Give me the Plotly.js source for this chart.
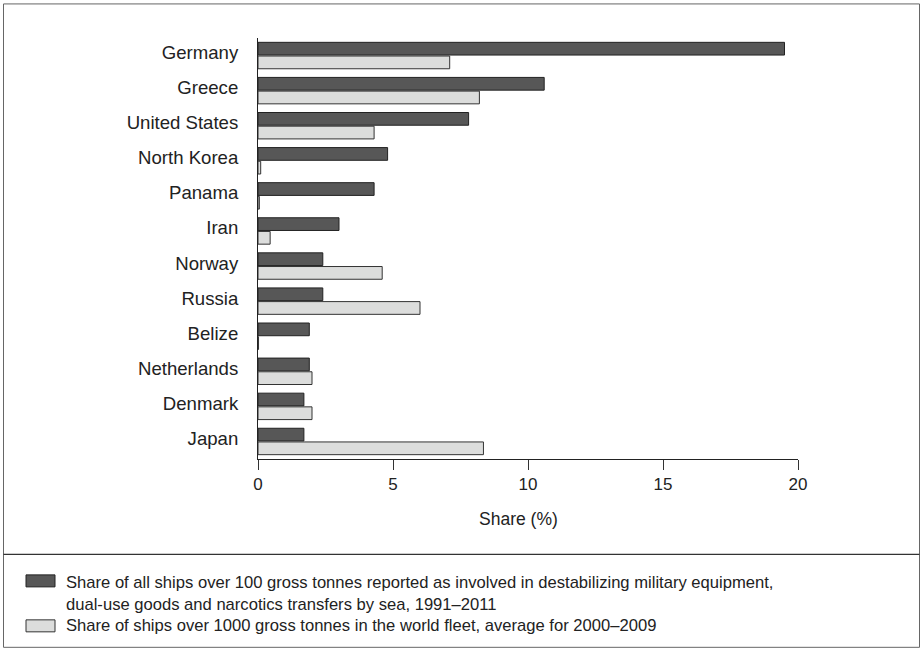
<!DOCTYPE html>
<html>
<head>
<meta charset="utf-8">
<script src="https://cdn.plot.ly/plotly-3.0.1.min.js"></script>
<style>
  html, body { margin: 0; padding: 0; background: #ffffff; }
  #chart { width: 923px; height: 651px; }
</style>
</head>
<body>
<div id="chart"></div>
<script>
// ---- data ----
var countries = ["Germany", "Greece", "United States", "North Korea", "Panama", "Iran",
                 "Norway", "Russia", "Belize", "Netherlands", "Denmark", "Japan"];
var transferShare = [19.5, 10.6, 7.8, 4.8, 4.3, 3.0, 2.4, 2.4, 1.9, 1.9, 1.7, 1.7];
var fleetShare    = [7.1, 8.2, 4.3, 0.1, 0.05, 0.45, 4.6, 6.0, 0.02, 2.0, 2.0, 8.35];
var seriesNames = [
  "Share of all ships over 100 gross tonnes reported as involved in destabilizing military equipment,<br>dual-use goods and narcotics transfers by sea, 1991\u20132011",
  "Share of ships over 1000 gross tonnes in the world fleet, average for 2000\u20132009"
];
var xTickVals = [0, 5, 10, 15, 20];
var xTitle = "Share (%)";

// ---- layout geometry (pixels) ----
var W = 923, H = 651;
var L = 258, R = 798, T = 37.6, B = 459;
function px(x) { return (x - L) / (R - L); }
function py(y) { return (B - y) / (B - T); }

var darkFill = "#575757", darkLine = "#222222";
var lightFill = "#dcdddc", lightLine = "#333333";
var FONT = "Liberation Sans, Arial, sans-serif";

var traces = [
  {
    type: "bar", orientation: "h", name: seriesNames[0],
    y: countries, x: transferShare,
    marker: { color: darkFill, line: { color: darkLine, width: 1 } },
    hoverinfo: "x+y", showlegend: false
  },
  {
    type: "bar", orientation: "h", name: seriesNames[1],
    y: countries, x: fleetShare,
    marker: { color: lightFill, line: { color: lightLine, width: 1 } },
    hoverinfo: "x+y", showlegend: false
  }
];

var shapes = [
  // outer frame
  { type: "rect", xref: "paper", yref: "paper",
    x0: px(3.5), x1: px(919.5), y0: py(647.5), y1: py(3.5),
    line: { color: "#666666", width: 1 }, fillcolor: "rgba(0,0,0,0)", layer: "below" },
  // separator above legend
  { type: "line", xref: "paper", yref: "paper",
    x0: px(3.5), x1: px(919.5), y0: py(554.5), y1: py(554.5),
    line: { color: "#333333", width: 1.2 } },
  // legend swatches
  { type: "rect", xref: "paper", yref: "paper",
    x0: px(26), x1: px(55), y0: py(587), y1: py(575),
    fillcolor: darkFill, line: { color: darkLine, width: 1 } },
  { type: "rect", xref: "paper", yref: "paper",
    x0: px(26), x1: px(55), y0: py(632), y1: py(620),
    fillcolor: lightFill, line: { color: lightLine, width: 1 } }
];

var annotations = [
  { xref: "paper", yref: "paper", x: px(518), y: py(519), text: xTitle,
    showarrow: false, xanchor: "center", yanchor: "middle",
    font: { family: FONT, size: 17.5, color: "#222222" } },
  { xref: "paper", yref: "paper", x: px(64), y: py(571), text: seriesNames[0],
    showarrow: false, xanchor: "left", yanchor: "top", align: "left",
    font: { family: FONT, size: 16.6, color: "#222222" } },
  { xref: "paper", yref: "paper", x: px(64), y: py(626), text: seriesNames[1],
    showarrow: false, xanchor: "left", yanchor: "middle", align: "left",
    font: { family: FONT, size: 16.6, color: "#222222" } }
];

var layout = {
  width: W, height: H,
  margin: { l: L, r: W - R, t: T, b: H - B, pad: 0 },
  paper_bgcolor: "#ffffff", plot_bgcolor: "#ffffff",
  barmode: "group", bargap: 0.22, bargroupgap: 0.07,
  showlegend: false,
  font: { family: FONT, color: "#222222" },
  xaxis: {
    range: [0, 20], tickvals: xTickVals, ticktext: xTickVals.map(String),
    ticks: "outside", ticklen: 10, tickwidth: 1, tickcolor: "#333333",
    showline: true, linecolor: "#222222", linewidth: 1,
    showgrid: false, zeroline: false, fixedrange: true,
    tickfont: { family: FONT, size: 17, color: "#222222" }
  },
  yaxis: {
    type: "category", autorange: "reversed",
    showline: true, linecolor: "#222222", linewidth: 1,
    ticks: "", showgrid: false, zeroline: false, fixedrange: true,
    ticklabelstandoff: 15, ticklabelshift: 3,
    tickfont: { family: FONT, size: 18.6, color: "#222222" }
  },
  shapes: shapes,
  annotations: annotations
};

Plotly.newPlot("chart", traces, layout, { staticPlot: true, displayModeBar: false });
</script>
</body>
</html>
